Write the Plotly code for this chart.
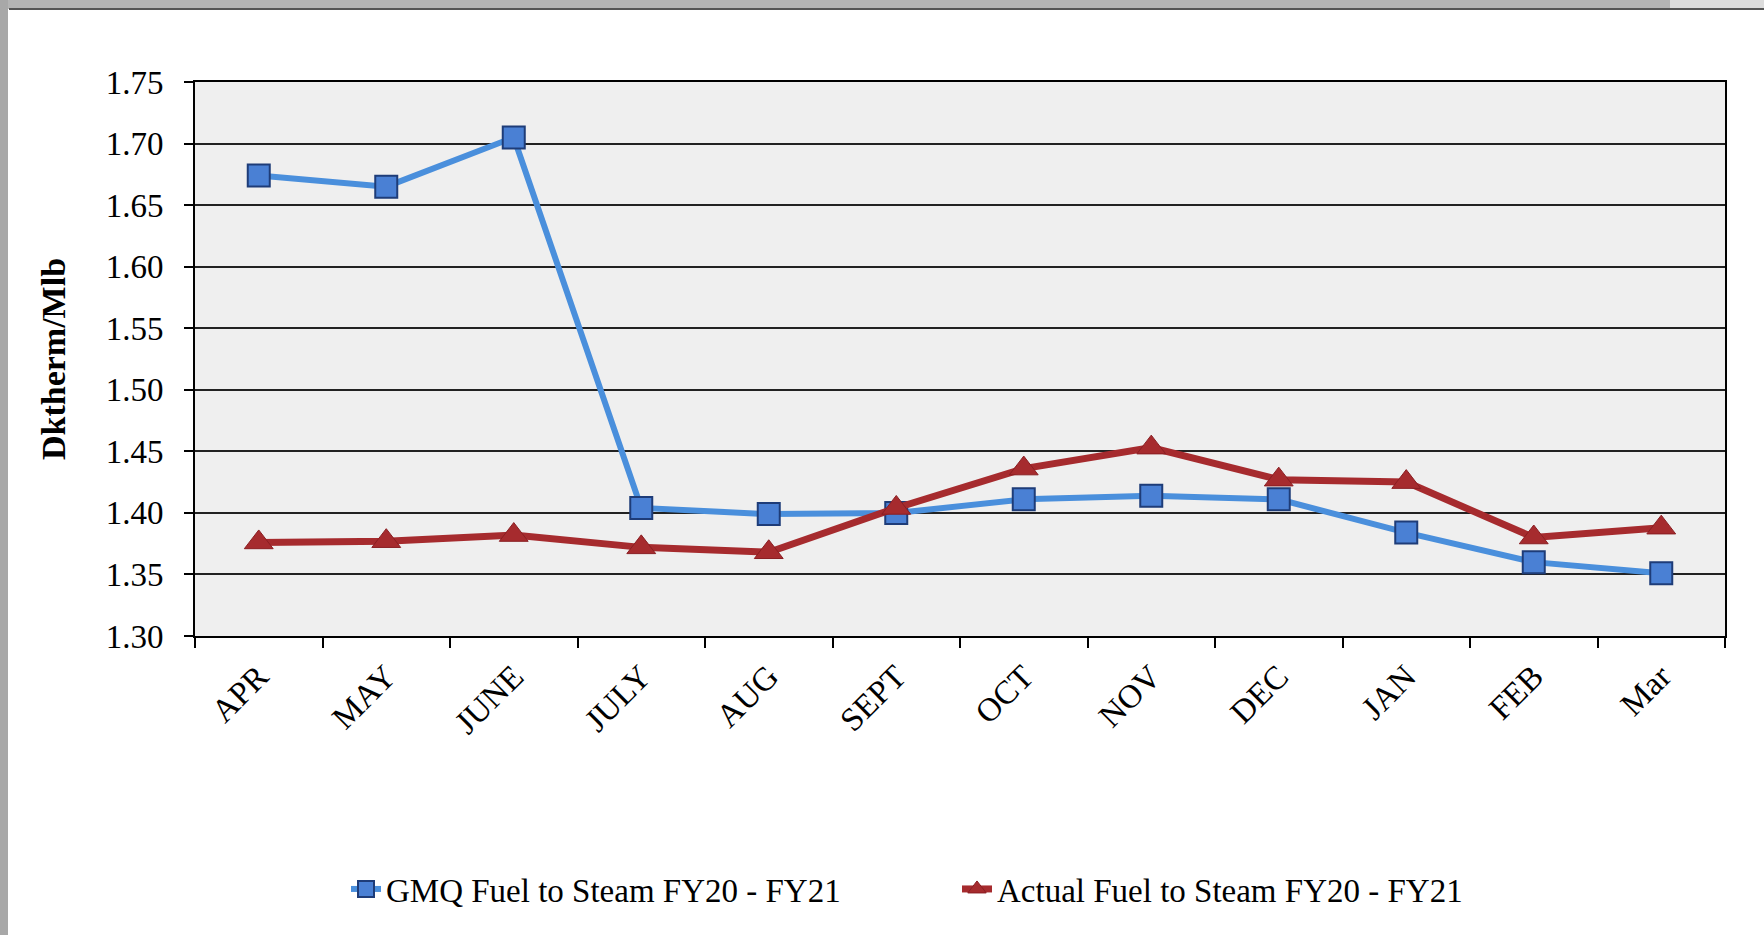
import plotly.graph_objects as go

months = ["APR", "MAY", "JUNE", "JULY", "AUG", "SEPT", "OCT", "NOV", "DEC", "JAN", "FEB", "Mar"]
gmq = [1.674, 1.665, 1.705, 1.404, 1.399, 1.400, 1.411, 1.414, 1.411, 1.384, 1.360, 1.351]
actual = [1.376, 1.377, 1.382, 1.372, 1.368, 1.404, 1.436, 1.453, 1.427, 1.425, 1.380, 1.388]
y_ticks = [1.30, 1.35, 1.40, 1.45, 1.50, 1.55, 1.60, 1.65, 1.70, 1.75]
gmq_name = "GMQ Fuel to Steam FY20 - FY21"
actual_name = "Actual Fuel to Steam FY20 - FY21"

W, H = 1764, 935
L, R, T, B = 195, 39, 82, 299
pw, ph = W - L - R, H - T - B

def px(x):
    return (x - L) / pw

def py(y):
    return (H - B - y) / ph

FONT = "Liberation Serif, Times New Roman, serif"

fig = go.Figure()
fig.add_trace(go.Scatter(
    x=months, y=gmq, name=gmq_name, mode="lines+markers",
    line=dict(color="#4A8FDC", width=6),
    marker=dict(symbol="square", size=22, color="#4A80D4",
                line=dict(color="#1E3C78", width=2)),
))
fig.add_trace(go.Scatter(
    x=months, y=actual, name=actual_name, mode="lines+markers",
    line=dict(color="#A62B2E", width=7),
    marker=dict(symbol="triangle-up", size=25, color="#A62B2E",
                line=dict(color="#8A1E22", width=1)),
))

shapes = [
    dict(type="rect", xref="paper", yref="paper", x0=px(0), x1=px(1670), y0=py(0), y1=py(9),
         fillcolor="#B4B4B4", line=dict(width=0), layer="above"),
    dict(type="rect", xref="paper", yref="paper", x0=px(1670), x1=px(W), y0=py(0), y1=py(9),
         fillcolor="#DCDCDC", line=dict(width=0), layer="above"),
    dict(type="line", xref="paper", yref="paper", x0=px(9), x1=px(W), y0=py(9), y1=py(9),
         line=dict(color="#555555", width=2), layer="above"),
    dict(type="rect", xref="paper", yref="paper", x0=px(0), x1=px(8), y0=py(H), y1=py(0),
         fillcolor="#A8A8A8", line=dict(width=0), layer="above"),
]

fig.update_layout(
    width=W, height=H,
    margin=dict(l=L, r=R, t=T, b=B, pad=0),
    paper_bgcolor="white",
    plot_bgcolor="#EFEFEF",
    font=dict(family=FONT, size=33, color="black"),
    showlegend=True,
    legend=dict(orientation="h", x=px(346), y=py(889), xanchor="left", yanchor="middle",
                font=dict(family=FONT, size=33, color="black"),
                entrywidth=566, entrywidthmode="pixels",
                bgcolor="rgba(0,0,0,0)"),
    shapes=shapes,
    xaxis=dict(
        type="category", tickangle=-45, tickson="boundaries", ticks="outside",
        ticklen=10, tickwidth=2, tickcolor="black", ticklabelstandoff=6,
        showline=True, linecolor="black", linewidth=2, mirror=True,
        showgrid=False, tickfont=dict(family=FONT, size=33),
        range=[-0.5, 11.5],
    ),
    yaxis=dict(
        range=[1.30, 1.75], tickvals=y_ticks, tickformat=".2f",
        ticks="outside", ticklen=9, tickwidth=2, tickcolor="black", ticklabelstandoff=14,
        showline=True, linecolor="black", linewidth=2, mirror=True,
        showgrid=True, gridcolor="#222222", gridwidth=2, zeroline=False,
        tickfont=dict(family=FONT, size=33),
        title=dict(text="<b>Dktherm/Mlb</b>", font=dict(family=FONT, size=34), standoff=30),
    ),
)

fig.write_html("out.html", config={"displayModeBar": False},
               post_script="document.body.style.margin='0px';")
